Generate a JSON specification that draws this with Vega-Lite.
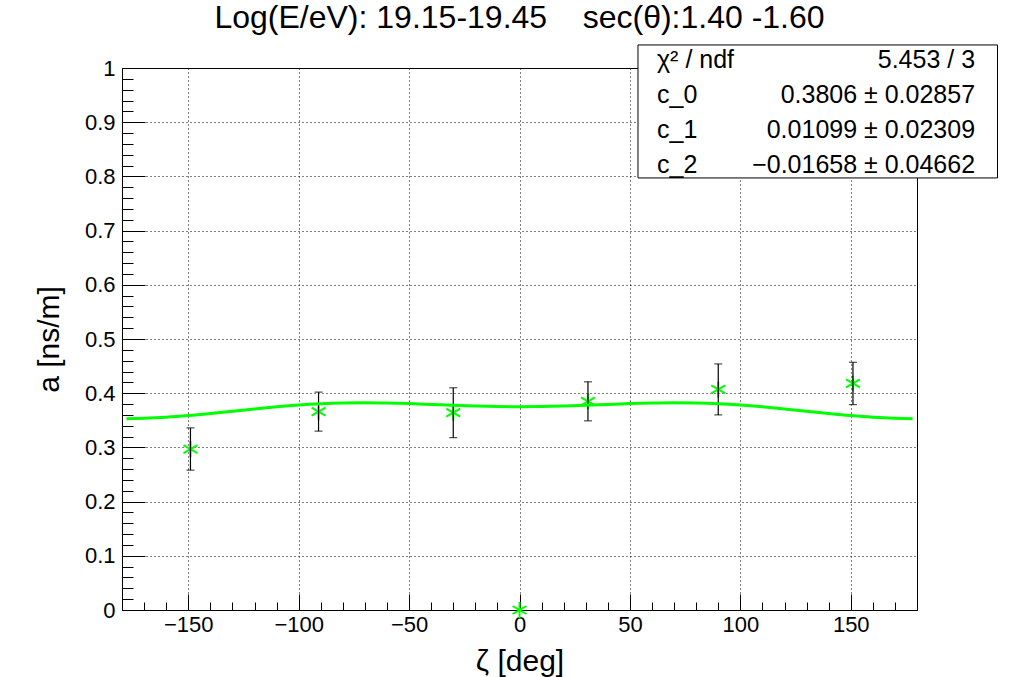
{
  "$schema": "https://vega.github.io/schema/vega-lite/v6.json",
  "width": 795,
  "height": 542,
  "autosize": {"type": "none"},
  "padding": {"left": 122, "top": 68, "right": 103, "bottom": 67},
  "background": "white",
  "config": {
    "font": "Liberation Sans",
    "view": {"stroke": "black", "strokeWidth": 1}
  },
  "title": {
    "text": "Log(E/eV): 19.15-19.45 \u00a0\u00a0\u00a0sec(θ):1.40 -1.60",
    "fontSize": 32,
    "fontWeight": "normal",
    "color": "black",
    "anchor": "middle",
    "frame": "group",
    "baseline": "alphabetic",
    "offset": -10,
    "dy": 6
  },
  "datasets": {
    "points": [
      {"zeta": -149, "a": 0.297, "err": 0.039},
      {"zeta": -91, "a": 0.366, "err": 0.036},
      {"zeta": -30, "a": 0.364, "err": 0.046},
      {"zeta": 31, "a": 0.385, "err": 0.036},
      {"zeta": 90, "a": 0.407, "err": 0.047},
      {"zeta": 151, "a": 0.418, "err": 0.039},
      {"zeta": 0, "a": 0.0, "err": 0}
    ],
    "fit": [
      {"zeta": -178, "a": 0.35306},
      {"zeta": -170, "a": 0.35370},
      {"zeta": -160, "a": 0.35563},
      {"zeta": -150, "a": 0.35865},
      {"zeta": -140, "a": 0.36245},
      {"zeta": -130, "a": 0.36669},
      {"zeta": -120, "a": 0.37096},
      {"zeta": -110, "a": 0.37490},
      {"zeta": -100, "a": 0.37819},
      {"zeta": -90, "a": 0.38060},
      {"zeta": -80, "a": 0.38201},
      {"zeta": -70, "a": 0.38242},
      {"zeta": -60, "a": 0.38195},
      {"zeta": -50, "a": 0.38081},
      {"zeta": -40, "a": 0.37929},
      {"zeta": -30, "a": 0.37768},
      {"zeta": -20, "a": 0.37629},
      {"zeta": -10, "a": 0.37534},
      {"zeta": 0, "a": 0.37501},
      {"zeta": 10, "a": 0.37534},
      {"zeta": 20, "a": 0.37629},
      {"zeta": 30, "a": 0.37768},
      {"zeta": 40, "a": 0.37929},
      {"zeta": 50, "a": 0.38081},
      {"zeta": 60, "a": 0.38195},
      {"zeta": 70, "a": 0.38242},
      {"zeta": 80, "a": 0.38201},
      {"zeta": 90, "a": 0.38060},
      {"zeta": 100, "a": 0.37819},
      {"zeta": 110, "a": 0.37490},
      {"zeta": 120, "a": 0.37096},
      {"zeta": 130, "a": 0.36669},
      {"zeta": 140, "a": 0.36245},
      {"zeta": 150, "a": 0.35865},
      {"zeta": 160, "a": 0.35563},
      {"zeta": 170, "a": 0.35370},
      {"zeta": 178, "a": 0.35306}
    ],
    "stats": [
      {"k": 0, "name": "χ² / ndf", "val": "5.453 / 3"},
      {"k": 1, "name": "c_0", "val": "0.3806 ± 0.02857"},
      {"k": 2, "name": "c_1", "val": "0.01099 ± 0.02309"},
      {"k": 3, "name": "c_2", "val": "−0.01658 ± 0.04662"}
    ]
  },
  "layer": [
    {
      "encoding": {
        "x": {
          "field": "zeta",
          "type": "quantitative",
          "scale": {"domain": [-180, 180], "nice": false, "zero": false},
          "axis": {
            "orient": "bottom",
            "title": "ζ [deg]",
            "values": [-180, -170, -160, -150, -140, -130, -120, -110, -100, -90, -80, -70, -60, -50, -40, -30, -20, -10, 0, 10, 20, 30, 40, 50, 60, 70, 80, 90, 100, 110, 120, 130, 140, 150, 160, 170, 180],
            "labelExpr": "abs(datum.value % 50) < 0.001 ? datum.label : ''",
            "labelFontSize": 22,
            "labelColor": "black",
            "labelPadding": 20,
            "labelOverlap": false,
            "labelFlush": false,
            "tickColor": "black",
            "tickWidth": 1,
            "tickSize": {"condition": {"test": "abs(datum.value % 50) < 0.001", "value": -16}, "value": -8},
            "grid": true,
            "gridColor": "black",
            "gridWidth": 1,
            "gridDash": [1, 3],
            "gridOpacity": {"condition": {"test": "abs(datum.value % 50) < 0.001", "value": 1}, "value": 0},
            "domainColor": "black",
            "domainWidth": 1,
            "titleFontSize": 30,
            "titleFontWeight": "normal",
            "titleColor": "black",
            "titlePadding": 3
          }
        },
        "y": {
          "field": "a",
          "type": "quantitative",
          "scale": {"domain": [0, 1], "nice": false},
          "axis": {
            "title": "a [ns/m]",
            "values": [0, 0.02, 0.04, 0.06, 0.08, 0.1, 0.12, 0.14, 0.16, 0.18, 0.2, 0.22, 0.24, 0.26, 0.28, 0.3, 0.32, 0.34, 0.36, 0.38, 0.4, 0.42, 0.44, 0.46, 0.48, 0.5, 0.52, 0.54, 0.56, 0.58, 0.6, 0.62, 0.64, 0.66, 0.68, 0.7, 0.72, 0.74, 0.76, 0.78, 0.8, 0.82, 0.84, 0.86, 0.88, 0.9, 0.92, 0.94, 0.96, 0.98, 1],
            "labelExpr": "abs(datum.value * 10 - round(datum.value * 10)) < 0.001 ? format(datum.value, '.1~f') : ''",
            "labelFontSize": 22,
            "labelColor": "black",
            "labelPadding": 30,
            "labelOverlap": false,
            "labelFlush": false,
            "tickColor": "black",
            "tickWidth": 1,
            "tickSize": {"condition": {"test": "abs(datum.value * 10 - round(datum.value * 10)) < 0.001", "value": -23}, "value": -11},
            "grid": true,
            "gridColor": "black",
            "gridWidth": 1,
            "gridDash": [1, 3],
            "gridOpacity": {"condition": {"test": "datum.value > 0.05 && datum.value < 0.95 && abs(datum.value * 10 - round(datum.value * 10)) < 0.001", "value": 1}, "value": 0},
            "domainColor": "black",
            "domainWidth": 1,
            "titleFontSize": 30,
            "titleFontWeight": "normal",
            "titleColor": "black",
            "titlePadding": 20
          }
        }
      },
      "layer": [
        {
          "data": {"name": "points"},
          "mark": {
            "type": "point",
            "shape": "M0,-1L0,1M-0.87,-0.5L0.87,0.5M-0.87,0.5L0.87,-0.5",
            "size": 256,
            "filled": false,
            "stroke": "#00ff00",
            "strokeWidth": 2,
            "opacity": 1
          }
        },
        {
          "data": {"name": "points"},
          "transform": [{"filter": "datum.err > 0"}],
          "mark": {
            "type": "errorbar",
            "ticks": {"size": 8, "thickness": 1.2, "color": "black"},
            "rule": {"strokeWidth": 1.2, "color": "black"}
          },
          "encoding": {
            "yError": {"field": "err"}
          }
        },
        {
          "data": {"name": "fit"},
          "mark": {"type": "line", "color": "#00ff00", "strokeWidth": 3, "interpolate": "monotone"}
        }
      ]
    },
    {
      "layer": [
        {
          "data": {"values": [{}]},
          "mark": {"type": "rect", "fill": "white", "stroke": "black", "strokeWidth": 1, "clip": false},
          "encoding": {
            "x": {"datum": 53.66, "type": "quantitative", "axis": null},
            "x2": {"datum": 216.45},
            "y": {"datum": -0.43, "type": "quantitative", "scale": {"domain": [0.2286, 15.7143], "nice": false, "zero": false, "reverse": true}, "axis": null},
            "y2": {"datum": 3.37}
          }
        },
        {
          "data": {"name": "stats"},
          "mark": {"type": "text", "align": "left", "baseline": "middle", "fontSize": 25, "color": "black"},
          "encoding": {
            "x": {"datum": 62.26, "type": "quantitative", "axis": null},
            "y": {"field": "k", "type": "quantitative"},
            "text": {"field": "name"}
          }
        },
        {
          "data": {"name": "stats"},
          "mark": {"type": "text", "align": "right", "baseline": "middle", "fontSize": 25, "color": "black"},
          "encoding": {
            "x": {"datum": 206.3, "type": "quantitative", "axis": null},
            "y": {"field": "k", "type": "quantitative"},
            "text": {"field": "val"}
          }
        }
      ]
    }
  ],
  "resolve": {"scale": {"y": "independent"}, "axis": {"x": "independent"}}
}
